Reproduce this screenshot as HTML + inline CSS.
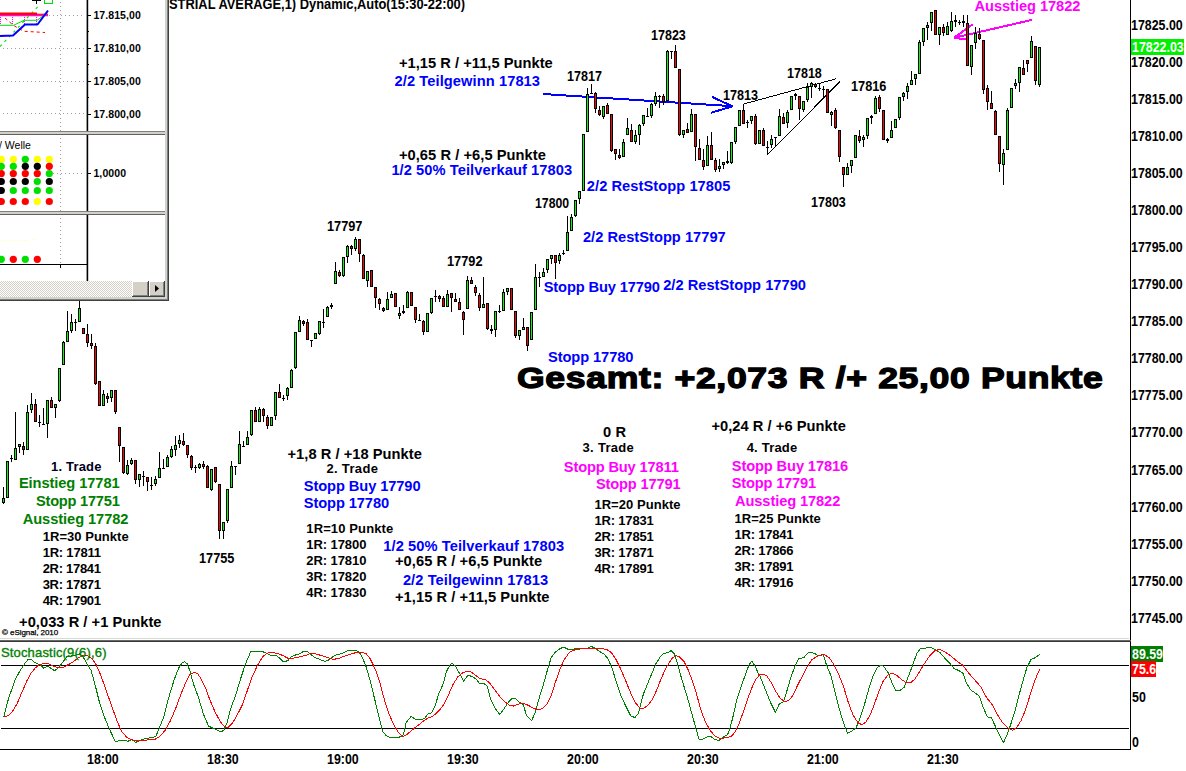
<!DOCTYPE html><html><head><meta charset="utf-8"><title>Chart</title><style>
html,body{margin:0;padding:0;background:#fff}body{width:1186px;height:771px;position:relative;overflow:hidden;font-family:"Liberation Sans",Arial,sans-serif}
svg{position:absolute;left:0;top:0}
.t{position:absolute;white-space:nowrap;line-height:1;margin:0;padding:0}
.tag{position:absolute;color:#fff;font-weight:bold;font-size:13px;line-height:1;white-space:nowrap}
</style></head><body>
<svg width="1186" height="771" viewBox="0 0 1186 771" shape-rendering="crispEdges">
<g shape-rendering="crispEdges">
<polyline points="543,94 731,106.1" fill="none" stroke="#0000ff" stroke-width="2"/>
<polyline points="712,96.9 732.5,106.3 711,112.8" fill="none" stroke="#0000ff" stroke-width="2" stroke-linejoin="bevel"/>
<polyline points="743,110 743,104.2 836,78.8" fill="none" stroke="#000" stroke-width="1"/>
<polyline points="767.3,155 839.7,81.7" fill="none" stroke="#000" stroke-width="1"/>
<polyline points="1032.3,19.8 954,37.8" fill="none" stroke="#ff00ff" stroke-width="2"/>
<polyline points="972.7,24.3 954,37.8 967.8,39.7" fill="none" stroke="#ff00ff" stroke-width="2" stroke-linejoin="bevel"/>
</g>
<g id="candles"><rect x="3" y="487" width="1" height="17" fill="#000"/><rect x="2" y="498" width="3" height="5" fill="#000"/><rect x="3" y="499" width="1" height="3" fill="#00ff00"/><rect x="7" y="461" width="1" height="37" fill="#000"/><rect x="6" y="461" width="3" height="37" fill="#000"/><rect x="7" y="462" width="1" height="35" fill="#00ff00"/><rect x="11" y="455" width="1" height="7" fill="#000"/><rect x="10" y="458" width="3" height="1" fill="#000"/><rect x="15" y="412" width="1" height="48" fill="#000"/><rect x="14" y="448" width="3" height="12" fill="#000"/><rect x="15" y="449" width="1" height="10" fill="#00ff00"/><rect x="19" y="444" width="1" height="9" fill="#000"/><rect x="18" y="444" width="3" height="3" fill="#000"/><rect x="19" y="445" width="1" height="1" fill="#00ff00"/><rect x="23" y="442" width="1" height="13" fill="#000"/><rect x="22" y="446" width="3" height="4" fill="#000"/><rect x="23" y="447" width="1" height="2" fill="#ff0000"/><rect x="27" y="405" width="1" height="45" fill="#000"/><rect x="26" y="412" width="3" height="38" fill="#000"/><rect x="27" y="413" width="1" height="36" fill="#00ff00"/><rect x="31" y="393" width="1" height="20" fill="#000"/><rect x="30" y="404" width="3" height="6" fill="#000"/><rect x="31" y="405" width="1" height="4" fill="#00ff00"/><rect x="35" y="399" width="1" height="23" fill="#000"/><rect x="34" y="404" width="3" height="18" fill="#000"/><rect x="35" y="405" width="1" height="16" fill="#ff0000"/><rect x="39" y="415" width="1" height="12" fill="#000"/><rect x="38" y="422" width="3" height="1" fill="#000"/><rect x="43" y="408" width="1" height="17" fill="#000"/><rect x="42" y="424" width="3" height="1" fill="#000"/><rect x="47" y="400" width="1" height="38" fill="#000"/><rect x="46" y="400" width="3" height="24" fill="#000"/><rect x="47" y="401" width="1" height="22" fill="#00ff00"/><rect x="51" y="397" width="1" height="11" fill="#000"/><rect x="50" y="400" width="3" height="8" fill="#000"/><rect x="51" y="401" width="1" height="6" fill="#ff0000"/><rect x="55" y="404" width="1" height="14" fill="#000"/><rect x="54" y="404" width="3" height="4" fill="#000"/><rect x="55" y="405" width="1" height="2" fill="#00ff00"/><rect x="59" y="368" width="1" height="34" fill="#000"/><rect x="58" y="368" width="3" height="33" fill="#000"/><rect x="59" y="369" width="1" height="31" fill="#00ff00"/><rect x="63" y="341" width="1" height="24" fill="#000"/><rect x="62" y="342" width="3" height="23" fill="#000"/><rect x="63" y="343" width="1" height="21" fill="#00ff00"/><rect x="67" y="311" width="1" height="31" fill="#000"/><rect x="66" y="331" width="3" height="11" fill="#000"/><rect x="67" y="332" width="1" height="9" fill="#00ff00"/><rect x="71" y="314" width="1" height="19" fill="#000"/><rect x="70" y="322" width="3" height="9" fill="#000"/><rect x="71" y="323" width="1" height="7" fill="#00ff00"/><rect x="75" y="319" width="1" height="12" fill="#000"/><rect x="74" y="322" width="3" height="1" fill="#000"/><rect x="79" y="300" width="1" height="22" fill="#000"/><rect x="78" y="308" width="3" height="14" fill="#000"/><rect x="79" y="309" width="1" height="12" fill="#00ff00"/><rect x="83" y="328" width="1" height="6" fill="#000"/><rect x="82" y="328" width="3" height="6" fill="#000"/><rect x="83" y="329" width="1" height="4" fill="#ff0000"/><rect x="87" y="324" width="1" height="23" fill="#000"/><rect x="86" y="334" width="3" height="9" fill="#000"/><rect x="87" y="335" width="1" height="7" fill="#ff0000"/><rect x="91" y="334" width="1" height="15" fill="#000"/><rect x="90" y="343" width="3" height="3" fill="#000"/><rect x="91" y="344" width="1" height="1" fill="#ff0000"/><rect x="95" y="343" width="1" height="42" fill="#000"/><rect x="94" y="346" width="3" height="38" fill="#000"/><rect x="95" y="347" width="1" height="36" fill="#ff0000"/><rect x="99" y="381" width="1" height="25" fill="#000"/><rect x="98" y="381" width="3" height="25" fill="#000"/><rect x="99" y="382" width="1" height="23" fill="#ff0000"/><rect x="103" y="390" width="1" height="16" fill="#000"/><rect x="102" y="394" width="3" height="12" fill="#000"/><rect x="103" y="395" width="1" height="10" fill="#00ff00"/><rect x="107" y="393" width="1" height="10" fill="#000"/><rect x="106" y="396" width="3" height="3" fill="#000"/><rect x="107" y="397" width="1" height="1" fill="#ff0000"/><rect x="111" y="390" width="1" height="12" fill="#000"/><rect x="110" y="390" width="3" height="8" fill="#000"/><rect x="111" y="391" width="1" height="6" fill="#00ff00"/><rect x="115" y="390" width="1" height="24" fill="#000"/><rect x="114" y="390" width="3" height="22" fill="#000"/><rect x="115" y="391" width="1" height="20" fill="#ff0000"/><rect x="119" y="427" width="1" height="35" fill="#000"/><rect x="118" y="427" width="3" height="19" fill="#000"/><rect x="119" y="428" width="1" height="17" fill="#ff0000"/><rect x="123" y="447" width="1" height="27" fill="#000"/><rect x="122" y="447" width="3" height="26" fill="#000"/><rect x="123" y="448" width="1" height="24" fill="#ff0000"/><rect x="127" y="460" width="1" height="15" fill="#000"/><rect x="126" y="465" width="3" height="9" fill="#000"/><rect x="127" y="466" width="1" height="7" fill="#00ff00"/><rect x="131" y="458" width="1" height="7" fill="#000"/><rect x="130" y="460" width="3" height="4" fill="#000"/><rect x="131" y="461" width="1" height="2" fill="#00ff00"/><rect x="135" y="460" width="1" height="24" fill="#000"/><rect x="134" y="460" width="3" height="20" fill="#000"/><rect x="135" y="461" width="1" height="18" fill="#ff0000"/><rect x="139" y="474" width="1" height="13" fill="#000"/><rect x="138" y="474" width="3" height="6" fill="#000"/><rect x="139" y="475" width="1" height="4" fill="#00ff00"/><rect x="143" y="471" width="1" height="15" fill="#000"/><rect x="142" y="476" width="3" height="1" fill="#000"/><rect x="147" y="477" width="1" height="14" fill="#000"/><rect x="146" y="477" width="3" height="5" fill="#000"/><rect x="147" y="478" width="1" height="3" fill="#ff0000"/><rect x="151" y="477" width="1" height="13" fill="#000"/><rect x="150" y="485" width="3" height="1" fill="#000"/><rect x="155" y="476" width="1" height="10" fill="#000"/><rect x="154" y="479" width="3" height="5" fill="#000"/><rect x="155" y="480" width="1" height="3" fill="#00ff00"/><rect x="159" y="452" width="1" height="26" fill="#000"/><rect x="158" y="468" width="3" height="10" fill="#000"/><rect x="159" y="469" width="1" height="8" fill="#00ff00"/><rect x="163" y="459" width="1" height="9" fill="#000"/><rect x="162" y="468" width="3" height="1" fill="#000"/><rect x="167" y="455" width="1" height="12" fill="#000"/><rect x="166" y="457" width="3" height="10" fill="#000"/><rect x="167" y="458" width="1" height="8" fill="#00ff00"/><rect x="171" y="446" width="1" height="12" fill="#000"/><rect x="170" y="449" width="3" height="8" fill="#000"/><rect x="171" y="450" width="1" height="6" fill="#00ff00"/><rect x="175" y="436" width="1" height="20" fill="#000"/><rect x="174" y="445" width="3" height="5" fill="#000"/><rect x="175" y="446" width="1" height="3" fill="#00ff00"/><rect x="179" y="435" width="1" height="13" fill="#000"/><rect x="178" y="440" width="3" height="4" fill="#000"/><rect x="179" y="441" width="1" height="2" fill="#00ff00"/><rect x="183" y="433" width="1" height="13" fill="#000"/><rect x="182" y="441" width="3" height="4" fill="#000"/><rect x="183" y="442" width="1" height="2" fill="#ff0000"/><rect x="187" y="445" width="1" height="13" fill="#000"/><rect x="186" y="445" width="3" height="10" fill="#000"/><rect x="187" y="446" width="1" height="8" fill="#ff0000"/><rect x="191" y="455" width="1" height="15" fill="#000"/><rect x="190" y="456" width="3" height="12" fill="#000"/><rect x="191" y="457" width="1" height="10" fill="#ff0000"/><rect x="195" y="465" width="1" height="8" fill="#000"/><rect x="194" y="467" width="3" height="1" fill="#000"/><rect x="199" y="463" width="1" height="6" fill="#000"/><rect x="198" y="464" width="3" height="4" fill="#000"/><rect x="199" y="465" width="1" height="2" fill="#00ff00"/><rect x="203" y="461" width="1" height="8" fill="#000"/><rect x="202" y="464" width="3" height="3" fill="#000"/><rect x="203" y="465" width="1" height="1" fill="#ff0000"/><rect x="207" y="465" width="1" height="23" fill="#000"/><rect x="206" y="466" width="3" height="22" fill="#000"/><rect x="207" y="467" width="1" height="20" fill="#ff0000"/><rect x="211" y="469" width="1" height="22" fill="#000"/><rect x="210" y="469" width="3" height="21" fill="#000"/><rect x="211" y="470" width="1" height="19" fill="#00ff00"/><rect x="215" y="467" width="1" height="16" fill="#000"/><rect x="214" y="467" width="3" height="15" fill="#000"/><rect x="215" y="468" width="1" height="13" fill="#ff0000"/><rect x="219" y="484" width="1" height="55" fill="#000"/><rect x="218" y="484" width="3" height="47" fill="#000"/><rect x="219" y="485" width="1" height="45" fill="#ff0000"/><rect x="223" y="522" width="1" height="17" fill="#000"/><rect x="222" y="522" width="3" height="9" fill="#000"/><rect x="223" y="523" width="1" height="7" fill="#00ff00"/><rect x="227" y="489" width="1" height="34" fill="#000"/><rect x="226" y="489" width="3" height="32" fill="#000"/><rect x="227" y="490" width="1" height="30" fill="#00ff00"/><rect x="231" y="461" width="1" height="27" fill="#000"/><rect x="230" y="466" width="3" height="22" fill="#000"/><rect x="231" y="467" width="1" height="20" fill="#00ff00"/><rect x="235" y="466" width="1" height="9" fill="#000"/><rect x="234" y="466" width="3" height="1" fill="#000"/><rect x="239" y="431" width="1" height="33" fill="#000"/><rect x="238" y="444" width="3" height="20" fill="#000"/><rect x="239" y="445" width="1" height="18" fill="#00ff00"/><rect x="243" y="441" width="1" height="6" fill="#000"/><rect x="242" y="446" width="3" height="1" fill="#000"/><rect x="247" y="431" width="1" height="14" fill="#000"/><rect x="246" y="437" width="3" height="8" fill="#000"/><rect x="247" y="438" width="1" height="6" fill="#00ff00"/><rect x="251" y="410" width="1" height="26" fill="#000"/><rect x="250" y="410" width="3" height="25" fill="#000"/><rect x="251" y="411" width="1" height="23" fill="#00ff00"/><rect x="255" y="407" width="1" height="15" fill="#000"/><rect x="254" y="410" width="3" height="12" fill="#000"/><rect x="255" y="411" width="1" height="10" fill="#ff0000"/><rect x="259" y="407" width="1" height="15" fill="#000"/><rect x="258" y="409" width="3" height="13" fill="#000"/><rect x="259" y="410" width="1" height="11" fill="#00ff00"/><rect x="263" y="408" width="1" height="14" fill="#000"/><rect x="262" y="409" width="3" height="7" fill="#000"/><rect x="263" y="410" width="1" height="5" fill="#ff0000"/><rect x="267" y="415" width="1" height="14" fill="#000"/><rect x="266" y="417" width="3" height="9" fill="#000"/><rect x="267" y="418" width="1" height="7" fill="#ff0000"/><rect x="271" y="417" width="1" height="9" fill="#000"/><rect x="270" y="417" width="3" height="9" fill="#000"/><rect x="271" y="418" width="1" height="7" fill="#00ff00"/><rect x="275" y="392" width="1" height="28" fill="#000"/><rect x="274" y="392" width="3" height="24" fill="#000"/><rect x="275" y="393" width="1" height="22" fill="#00ff00"/><rect x="279" y="384" width="1" height="14" fill="#000"/><rect x="278" y="392" width="3" height="6" fill="#000"/><rect x="279" y="393" width="1" height="4" fill="#ff0000"/><rect x="283" y="395" width="1" height="6" fill="#000"/><rect x="282" y="398" width="3" height="1" fill="#000"/><rect x="287" y="387" width="1" height="13" fill="#000"/><rect x="286" y="388" width="3" height="8" fill="#000"/><rect x="287" y="389" width="1" height="6" fill="#00ff00"/><rect x="291" y="369" width="1" height="19" fill="#000"/><rect x="290" y="370" width="3" height="18" fill="#000"/><rect x="291" y="371" width="1" height="16" fill="#00ff00"/><rect x="295" y="332" width="1" height="37" fill="#000"/><rect x="294" y="332" width="3" height="36" fill="#000"/><rect x="295" y="333" width="1" height="34" fill="#00ff00"/><rect x="299" y="316" width="1" height="16" fill="#000"/><rect x="298" y="320" width="3" height="12" fill="#000"/><rect x="299" y="321" width="1" height="10" fill="#00ff00"/><rect x="303" y="320" width="1" height="6" fill="#000"/><rect x="302" y="321" width="3" height="3" fill="#000"/><rect x="303" y="322" width="1" height="1" fill="#ff0000"/><rect x="307" y="319" width="1" height="21" fill="#000"/><rect x="306" y="322" width="3" height="18" fill="#000"/><rect x="307" y="323" width="1" height="16" fill="#ff0000"/><rect x="311" y="340" width="1" height="7" fill="#000"/><rect x="310" y="340" width="3" height="1" fill="#000"/><rect x="315" y="333" width="1" height="6" fill="#000"/><rect x="314" y="333" width="3" height="6" fill="#000"/><rect x="315" y="334" width="1" height="4" fill="#00ff00"/><rect x="319" y="321" width="1" height="14" fill="#000"/><rect x="318" y="321" width="3" height="13" fill="#000"/><rect x="319" y="322" width="1" height="11" fill="#00ff00"/><rect x="323" y="309" width="1" height="19" fill="#000"/><rect x="322" y="322" width="3" height="1" fill="#000"/><rect x="327" y="306" width="1" height="11" fill="#000"/><rect x="326" y="307" width="3" height="10" fill="#000"/><rect x="327" y="308" width="1" height="8" fill="#00ff00"/><rect x="331" y="303" width="1" height="6" fill="#000"/><rect x="330" y="305" width="3" height="2" fill="#000"/><rect x="335" y="262" width="1" height="22" fill="#000"/><rect x="334" y="271" width="3" height="13" fill="#000"/><rect x="335" y="272" width="1" height="11" fill="#00ff00"/><rect x="339" y="270" width="1" height="7" fill="#000"/><rect x="338" y="272" width="3" height="4" fill="#000"/><rect x="339" y="273" width="1" height="2" fill="#ff0000"/><rect x="343" y="257" width="1" height="20" fill="#000"/><rect x="342" y="257" width="3" height="19" fill="#000"/><rect x="343" y="258" width="1" height="17" fill="#00ff00"/><rect x="347" y="245" width="1" height="18" fill="#000"/><rect x="346" y="246" width="3" height="11" fill="#000"/><rect x="347" y="247" width="1" height="9" fill="#00ff00"/><rect x="351" y="245" width="1" height="10" fill="#000"/><rect x="350" y="246" width="3" height="3" fill="#000"/><rect x="351" y="247" width="1" height="1" fill="#ff0000"/><rect x="355" y="237" width="1" height="14" fill="#000"/><rect x="354" y="239" width="3" height="10" fill="#000"/><rect x="355" y="240" width="1" height="8" fill="#00ff00"/><rect x="359" y="239" width="1" height="23" fill="#000"/><rect x="358" y="239" width="3" height="15" fill="#000"/><rect x="359" y="240" width="1" height="13" fill="#ff0000"/><rect x="363" y="254" width="1" height="25" fill="#000"/><rect x="362" y="255" width="3" height="24" fill="#000"/><rect x="363" y="256" width="1" height="22" fill="#ff0000"/><rect x="367" y="271" width="1" height="16" fill="#000"/><rect x="366" y="271" width="3" height="10" fill="#000"/><rect x="367" y="272" width="1" height="8" fill="#00ff00"/><rect x="371" y="270" width="1" height="17" fill="#000"/><rect x="370" y="270" width="3" height="17" fill="#000"/><rect x="371" y="271" width="1" height="15" fill="#ff0000"/><rect x="375" y="287" width="1" height="21" fill="#000"/><rect x="374" y="287" width="3" height="11" fill="#000"/><rect x="375" y="288" width="1" height="9" fill="#ff0000"/><rect x="379" y="298" width="1" height="12" fill="#000"/><rect x="378" y="299" width="3" height="5" fill="#000"/><rect x="379" y="300" width="1" height="3" fill="#ff0000"/><rect x="383" y="307" width="1" height="5" fill="#000"/><rect x="382" y="308" width="3" height="3" fill="#000"/><rect x="383" y="309" width="1" height="1" fill="#ff0000"/><rect x="387" y="292" width="1" height="18" fill="#000"/><rect x="386" y="299" width="3" height="11" fill="#000"/><rect x="387" y="300" width="1" height="9" fill="#00ff00"/><rect x="391" y="291" width="1" height="7" fill="#000"/><rect x="390" y="294" width="3" height="4" fill="#000"/><rect x="391" y="295" width="1" height="2" fill="#00ff00"/><rect x="395" y="293" width="1" height="14" fill="#000"/><rect x="394" y="293" width="3" height="14" fill="#000"/><rect x="395" y="294" width="1" height="12" fill="#ff0000"/><rect x="399" y="307" width="1" height="12" fill="#000"/><rect x="398" y="313" width="3" height="3" fill="#000"/><rect x="399" y="314" width="1" height="1" fill="#00ff00"/><rect x="403" y="305" width="1" height="9" fill="#000"/><rect x="402" y="311" width="3" height="2" fill="#000"/><rect x="407" y="291" width="1" height="17" fill="#000"/><rect x="406" y="292" width="3" height="16" fill="#000"/><rect x="407" y="293" width="1" height="14" fill="#00ff00"/><rect x="411" y="292" width="1" height="14" fill="#000"/><rect x="410" y="292" width="3" height="14" fill="#000"/><rect x="411" y="293" width="1" height="12" fill="#ff0000"/><rect x="415" y="307" width="1" height="16" fill="#000"/><rect x="414" y="307" width="3" height="13" fill="#000"/><rect x="415" y="308" width="1" height="11" fill="#ff0000"/><rect x="419" y="314" width="1" height="6" fill="#000"/><rect x="418" y="320" width="3" height="1" fill="#000"/><rect x="423" y="320" width="1" height="15" fill="#000"/><rect x="422" y="321" width="3" height="11" fill="#000"/><rect x="423" y="322" width="1" height="9" fill="#ff0000"/><rect x="427" y="313" width="1" height="19" fill="#000"/><rect x="426" y="313" width="3" height="19" fill="#000"/><rect x="427" y="314" width="1" height="17" fill="#00ff00"/><rect x="431" y="298" width="1" height="16" fill="#000"/><rect x="430" y="298" width="3" height="15" fill="#000"/><rect x="431" y="299" width="1" height="13" fill="#00ff00"/><rect x="435" y="290" width="1" height="12" fill="#000"/><rect x="434" y="296" width="3" height="1" fill="#000"/><rect x="439" y="295" width="1" height="7" fill="#000"/><rect x="438" y="296" width="3" height="3" fill="#000"/><rect x="439" y="297" width="1" height="1" fill="#ff0000"/><rect x="443" y="296" width="1" height="11" fill="#000"/><rect x="442" y="298" width="3" height="9" fill="#000"/><rect x="443" y="299" width="1" height="7" fill="#ff0000"/><rect x="447" y="290" width="1" height="17" fill="#000"/><rect x="446" y="294" width="3" height="13" fill="#000"/><rect x="447" y="295" width="1" height="11" fill="#00ff00"/><rect x="451" y="293" width="1" height="19" fill="#000"/><rect x="450" y="293" width="3" height="5" fill="#000"/><rect x="451" y="294" width="1" height="3" fill="#ff0000"/><rect x="455" y="293" width="1" height="9" fill="#000"/><rect x="454" y="299" width="3" height="3" fill="#000"/><rect x="455" y="300" width="1" height="1" fill="#ff0000"/><rect x="459" y="298" width="1" height="12" fill="#000"/><rect x="458" y="302" width="3" height="8" fill="#000"/><rect x="459" y="303" width="1" height="6" fill="#ff0000"/><rect x="463" y="311" width="1" height="24" fill="#000"/><rect x="462" y="312" width="3" height="8" fill="#000"/><rect x="463" y="313" width="1" height="6" fill="#ff0000"/><rect x="467" y="276" width="1" height="33" fill="#000"/><rect x="466" y="280" width="3" height="29" fill="#000"/><rect x="467" y="281" width="1" height="27" fill="#00ff00"/><rect x="471" y="277" width="1" height="7" fill="#000"/><rect x="470" y="280" width="3" height="4" fill="#000"/><rect x="471" y="281" width="1" height="2" fill="#ff0000"/><rect x="475" y="285" width="1" height="11" fill="#000"/><rect x="474" y="287" width="3" height="6" fill="#000"/><rect x="475" y="288" width="1" height="4" fill="#ff0000"/><rect x="479" y="293" width="1" height="18" fill="#000"/><rect x="478" y="295" width="3" height="13" fill="#000"/><rect x="479" y="296" width="1" height="11" fill="#ff0000"/><rect x="483" y="277" width="1" height="31" fill="#000"/><rect x="482" y="304" width="3" height="4" fill="#000"/><rect x="483" y="305" width="1" height="2" fill="#00ff00"/><rect x="487" y="303" width="1" height="27" fill="#000"/><rect x="486" y="303" width="3" height="26" fill="#000"/><rect x="487" y="304" width="1" height="24" fill="#ff0000"/><rect x="491" y="325" width="1" height="9" fill="#000"/><rect x="490" y="329" width="3" height="2" fill="#000"/><rect x="495" y="311" width="1" height="26" fill="#000"/><rect x="494" y="311" width="3" height="19" fill="#000"/><rect x="495" y="312" width="1" height="17" fill="#00ff00"/><rect x="499" y="305" width="1" height="8" fill="#000"/><rect x="498" y="311" width="3" height="1" fill="#000"/><rect x="503" y="289" width="1" height="22" fill="#000"/><rect x="502" y="292" width="3" height="19" fill="#000"/><rect x="503" y="293" width="1" height="17" fill="#00ff00"/><rect x="507" y="288" width="1" height="7" fill="#000"/><rect x="506" y="288" width="3" height="4" fill="#000"/><rect x="507" y="289" width="1" height="2" fill="#00ff00"/><rect x="511" y="288" width="1" height="22" fill="#000"/><rect x="510" y="288" width="3" height="22" fill="#000"/><rect x="511" y="289" width="1" height="20" fill="#ff0000"/><rect x="515" y="311" width="1" height="27" fill="#000"/><rect x="514" y="311" width="3" height="25" fill="#000"/><rect x="515" y="312" width="1" height="23" fill="#ff0000"/><rect x="519" y="330" width="1" height="10" fill="#000"/><rect x="518" y="330" width="3" height="6" fill="#000"/><rect x="519" y="331" width="1" height="4" fill="#00ff00"/><rect x="523" y="318" width="1" height="11" fill="#000"/><rect x="522" y="327" width="3" height="3" fill="#000"/><rect x="523" y="328" width="1" height="1" fill="#00ff00"/><rect x="527" y="327" width="1" height="24" fill="#000"/><rect x="526" y="327" width="3" height="19" fill="#000"/><rect x="527" y="328" width="1" height="17" fill="#ff0000"/><rect x="531" y="312" width="1" height="28" fill="#000"/><rect x="530" y="312" width="3" height="28" fill="#000"/><rect x="531" y="313" width="1" height="26" fill="#00ff00"/><rect x="535" y="264" width="1" height="46" fill="#000"/><rect x="534" y="277" width="3" height="33" fill="#000"/><rect x="535" y="278" width="1" height="31" fill="#00ff00"/><rect x="539" y="272" width="1" height="15" fill="#000"/><rect x="538" y="277" width="3" height="1" fill="#000"/><rect x="543" y="268" width="1" height="9" fill="#000"/><rect x="542" y="272" width="3" height="5" fill="#000"/><rect x="543" y="273" width="1" height="3" fill="#00ff00"/><rect x="547" y="259" width="1" height="14" fill="#000"/><rect x="546" y="259" width="3" height="11" fill="#000"/><rect x="547" y="260" width="1" height="9" fill="#00ff00"/><rect x="551" y="255" width="1" height="9" fill="#000"/><rect x="550" y="255" width="3" height="4" fill="#000"/><rect x="551" y="256" width="1" height="2" fill="#00ff00"/><rect x="555" y="255" width="1" height="24" fill="#000"/><rect x="554" y="255" width="3" height="8" fill="#000"/><rect x="555" y="256" width="1" height="6" fill="#ff0000"/><rect x="559" y="253" width="1" height="11" fill="#000"/><rect x="558" y="255" width="3" height="6" fill="#000"/><rect x="559" y="256" width="1" height="4" fill="#00ff00"/><rect x="563" y="250" width="1" height="5" fill="#000"/><rect x="562" y="253" width="3" height="1" fill="#000"/><rect x="567" y="216" width="1" height="35" fill="#000"/><rect x="566" y="232" width="3" height="19" fill="#000"/><rect x="567" y="233" width="1" height="17" fill="#00ff00"/><rect x="571" y="214" width="1" height="17" fill="#000"/><rect x="570" y="217" width="3" height="14" fill="#000"/><rect x="571" y="218" width="1" height="12" fill="#00ff00"/><rect x="575" y="200" width="1" height="17" fill="#000"/><rect x="574" y="200" width="3" height="16" fill="#000"/><rect x="575" y="201" width="1" height="14" fill="#00ff00"/><rect x="579" y="191" width="1" height="13" fill="#000"/><rect x="578" y="191" width="3" height="8" fill="#000"/><rect x="579" y="192" width="1" height="6" fill="#00ff00"/><rect x="583" y="134" width="1" height="57" fill="#000"/><rect x="582" y="134" width="3" height="57" fill="#000"/><rect x="583" y="135" width="1" height="55" fill="#00ff00"/><rect x="587" y="88" width="1" height="44" fill="#000"/><rect x="586" y="94" width="3" height="38" fill="#000"/><rect x="587" y="95" width="1" height="36" fill="#00ff00"/><rect x="591" y="84" width="1" height="9" fill="#000"/><rect x="590" y="93" width="3" height="1" fill="#000"/><rect x="595" y="92" width="1" height="21" fill="#000"/><rect x="594" y="93" width="3" height="16" fill="#000"/><rect x="595" y="94" width="1" height="14" fill="#ff0000"/><rect x="599" y="106" width="1" height="10" fill="#000"/><rect x="598" y="110" width="3" height="5" fill="#000"/><rect x="599" y="111" width="1" height="3" fill="#ff0000"/><rect x="603" y="106" width="1" height="13" fill="#000"/><rect x="602" y="106" width="3" height="11" fill="#000"/><rect x="603" y="107" width="1" height="9" fill="#00ff00"/><rect x="607" y="103" width="1" height="11" fill="#000"/><rect x="606" y="105" width="3" height="9" fill="#000"/><rect x="607" y="106" width="1" height="7" fill="#ff0000"/><rect x="611" y="114" width="1" height="38" fill="#000"/><rect x="610" y="114" width="3" height="37" fill="#000"/><rect x="611" y="115" width="1" height="35" fill="#ff0000"/><rect x="615" y="149" width="1" height="11" fill="#000"/><rect x="614" y="149" width="3" height="5" fill="#000"/><rect x="615" y="150" width="1" height="3" fill="#ff0000"/><rect x="619" y="149" width="1" height="10" fill="#000"/><rect x="618" y="155" width="3" height="3" fill="#000"/><rect x="619" y="156" width="1" height="1" fill="#ff0000"/><rect x="623" y="139" width="1" height="18" fill="#000"/><rect x="622" y="142" width="3" height="15" fill="#000"/><rect x="623" y="143" width="1" height="13" fill="#00ff00"/><rect x="627" y="118" width="1" height="17" fill="#000"/><rect x="626" y="128" width="3" height="7" fill="#000"/><rect x="627" y="129" width="1" height="5" fill="#00ff00"/><rect x="631" y="124" width="1" height="18" fill="#000"/><rect x="630" y="130" width="3" height="12" fill="#000"/><rect x="631" y="131" width="1" height="10" fill="#ff0000"/><rect x="635" y="130" width="1" height="14" fill="#000"/><rect x="634" y="135" width="3" height="7" fill="#000"/><rect x="635" y="136" width="1" height="5" fill="#00ff00"/><rect x="639" y="124" width="1" height="21" fill="#000"/><rect x="638" y="125" width="3" height="10" fill="#000"/><rect x="639" y="126" width="1" height="8" fill="#00ff00"/><rect x="643" y="115" width="1" height="11" fill="#000"/><rect x="642" y="115" width="3" height="9" fill="#000"/><rect x="643" y="116" width="1" height="7" fill="#00ff00"/><rect x="647" y="108" width="1" height="8" fill="#000"/><rect x="646" y="116" width="3" height="1" fill="#000"/><rect x="651" y="103" width="1" height="15" fill="#000"/><rect x="650" y="104" width="3" height="12" fill="#000"/><rect x="651" y="105" width="1" height="10" fill="#00ff00"/><rect x="655" y="92" width="1" height="14" fill="#000"/><rect x="654" y="96" width="3" height="8" fill="#000"/><rect x="655" y="97" width="1" height="6" fill="#00ff00"/><rect x="659" y="95" width="1" height="13" fill="#000"/><rect x="658" y="96" width="3" height="1" fill="#000"/><rect x="663" y="94" width="1" height="11" fill="#000"/><rect x="662" y="96" width="3" height="6" fill="#000"/><rect x="663" y="97" width="1" height="4" fill="#ff0000"/><rect x="667" y="50" width="1" height="51" fill="#000"/><rect x="666" y="51" width="3" height="50" fill="#000"/><rect x="667" y="52" width="1" height="48" fill="#00ff00"/><rect x="671" y="51" width="1" height="8" fill="#000"/><rect x="670" y="51" width="3" height="1" fill="#000"/><rect x="675" y="45" width="1" height="23" fill="#000"/><rect x="674" y="51" width="3" height="17" fill="#000"/><rect x="675" y="52" width="1" height="15" fill="#ff0000"/><rect x="679" y="69" width="1" height="67" fill="#000"/><rect x="678" y="69" width="3" height="66" fill="#000"/><rect x="679" y="70" width="1" height="64" fill="#ff0000"/><rect x="683" y="130" width="1" height="8" fill="#000"/><rect x="682" y="130" width="3" height="5" fill="#000"/><rect x="683" y="131" width="1" height="3" fill="#00ff00"/><rect x="687" y="123" width="1" height="10" fill="#000"/><rect x="686" y="129" width="3" height="4" fill="#000"/><rect x="687" y="130" width="1" height="2" fill="#ff0000"/><rect x="691" y="109" width="1" height="23" fill="#000"/><rect x="690" y="114" width="3" height="18" fill="#000"/><rect x="691" y="115" width="1" height="16" fill="#00ff00"/><rect x="695" y="114" width="1" height="47" fill="#000"/><rect x="694" y="114" width="3" height="33" fill="#000"/><rect x="695" y="115" width="1" height="31" fill="#ff0000"/><rect x="699" y="139" width="1" height="21" fill="#000"/><rect x="698" y="148" width="3" height="12" fill="#000"/><rect x="699" y="149" width="1" height="10" fill="#ff0000"/><rect x="703" y="149" width="1" height="21" fill="#000"/><rect x="702" y="160" width="3" height="7" fill="#000"/><rect x="703" y="161" width="1" height="5" fill="#ff0000"/><rect x="707" y="136" width="1" height="30" fill="#000"/><rect x="706" y="145" width="3" height="21" fill="#000"/><rect x="707" y="146" width="1" height="19" fill="#00ff00"/><rect x="711" y="132" width="1" height="28" fill="#000"/><rect x="710" y="145" width="3" height="15" fill="#000"/><rect x="711" y="146" width="1" height="13" fill="#ff0000"/><rect x="715" y="158" width="1" height="14" fill="#000"/><rect x="714" y="160" width="3" height="10" fill="#000"/><rect x="715" y="161" width="1" height="8" fill="#ff0000"/><rect x="719" y="159" width="1" height="13" fill="#000"/><rect x="718" y="166" width="3" height="3" fill="#000"/><rect x="719" y="167" width="1" height="1" fill="#00ff00"/><rect x="723" y="162" width="1" height="7" fill="#000"/><rect x="722" y="162" width="3" height="3" fill="#000"/><rect x="723" y="163" width="1" height="1" fill="#00ff00"/><rect x="727" y="151" width="1" height="13" fill="#000"/><rect x="726" y="161" width="3" height="2" fill="#000"/><rect x="731" y="142" width="1" height="22" fill="#000"/><rect x="730" y="142" width="3" height="21" fill="#000"/><rect x="731" y="143" width="1" height="19" fill="#00ff00"/><rect x="735" y="127" width="1" height="17" fill="#000"/><rect x="734" y="127" width="3" height="15" fill="#000"/><rect x="735" y="128" width="1" height="13" fill="#00ff00"/><rect x="739" y="110" width="1" height="16" fill="#000"/><rect x="738" y="110" width="3" height="16" fill="#000"/><rect x="739" y="111" width="1" height="14" fill="#00ff00"/><rect x="743" y="104" width="1" height="20" fill="#000"/><rect x="742" y="110" width="3" height="14" fill="#000"/><rect x="743" y="111" width="1" height="12" fill="#ff0000"/><rect x="747" y="120" width="1" height="8" fill="#000"/><rect x="746" y="122" width="3" height="1" fill="#000"/><rect x="751" y="116" width="1" height="8" fill="#000"/><rect x="750" y="116" width="3" height="5" fill="#000"/><rect x="751" y="117" width="1" height="3" fill="#00ff00"/><rect x="755" y="114" width="1" height="31" fill="#000"/><rect x="754" y="116" width="3" height="28" fill="#000"/><rect x="755" y="117" width="1" height="26" fill="#ff0000"/><rect x="759" y="130" width="1" height="14" fill="#000"/><rect x="758" y="130" width="3" height="14" fill="#000"/><rect x="759" y="131" width="1" height="12" fill="#00ff00"/><rect x="763" y="128" width="1" height="18" fill="#000"/><rect x="762" y="130" width="3" height="16" fill="#000"/><rect x="763" y="131" width="1" height="14" fill="#ff0000"/><rect x="767" y="141" width="1" height="14" fill="#000"/><rect x="766" y="147" width="3" height="1" fill="#000"/><rect x="771" y="135" width="1" height="13" fill="#000"/><rect x="770" y="139" width="3" height="6" fill="#000"/><rect x="771" y="140" width="1" height="4" fill="#00ff00"/><rect x="775" y="137" width="1" height="9" fill="#000"/><rect x="774" y="137" width="3" height="1" fill="#000"/><rect x="779" y="109" width="1" height="27" fill="#000"/><rect x="778" y="116" width="3" height="20" fill="#000"/><rect x="779" y="117" width="1" height="18" fill="#00ff00"/><rect x="783" y="113" width="1" height="11" fill="#000"/><rect x="782" y="117" width="3" height="7" fill="#000"/><rect x="783" y="118" width="1" height="5" fill="#ff0000"/><rect x="787" y="110" width="1" height="18" fill="#000"/><rect x="786" y="112" width="3" height="11" fill="#000"/><rect x="787" y="113" width="1" height="9" fill="#00ff00"/><rect x="791" y="96" width="1" height="14" fill="#000"/><rect x="790" y="96" width="3" height="14" fill="#000"/><rect x="791" y="97" width="1" height="12" fill="#00ff00"/><rect x="795" y="93" width="1" height="7" fill="#000"/><rect x="794" y="94" width="3" height="2" fill="#000"/><rect x="799" y="96" width="1" height="24" fill="#000"/><rect x="798" y="96" width="3" height="13" fill="#000"/><rect x="799" y="97" width="1" height="11" fill="#ff0000"/><rect x="803" y="101" width="1" height="11" fill="#000"/><rect x="802" y="101" width="3" height="9" fill="#000"/><rect x="803" y="102" width="1" height="7" fill="#00ff00"/><rect x="807" y="83" width="1" height="19" fill="#000"/><rect x="806" y="87" width="3" height="13" fill="#000"/><rect x="807" y="88" width="1" height="11" fill="#00ff00"/><rect x="811" y="82" width="1" height="16" fill="#000"/><rect x="810" y="83" width="3" height="4" fill="#000"/><rect x="811" y="84" width="1" height="2" fill="#00ff00"/><rect x="815" y="83" width="1" height="5" fill="#000"/><rect x="814" y="84" width="3" height="3" fill="#000"/><rect x="815" y="85" width="1" height="1" fill="#ff0000"/><rect x="819" y="83" width="1" height="8" fill="#000"/><rect x="818" y="88" width="3" height="1" fill="#000"/><rect x="823" y="86" width="1" height="12" fill="#000"/><rect x="822" y="89" width="3" height="1" fill="#000"/><rect x="827" y="89" width="1" height="24" fill="#000"/><rect x="826" y="89" width="3" height="24" fill="#000"/><rect x="827" y="90" width="1" height="22" fill="#ff0000"/><rect x="831" y="111" width="1" height="15" fill="#000"/><rect x="830" y="112" width="3" height="3" fill="#000"/><rect x="831" y="113" width="1" height="1" fill="#00ff00"/><rect x="835" y="108" width="1" height="21" fill="#000"/><rect x="834" y="110" width="3" height="18" fill="#000"/><rect x="835" y="111" width="1" height="16" fill="#ff0000"/><rect x="839" y="130" width="1" height="32" fill="#000"/><rect x="838" y="130" width="3" height="27" fill="#000"/><rect x="839" y="131" width="1" height="25" fill="#ff0000"/><rect x="843" y="167" width="1" height="20" fill="#000"/><rect x="842" y="167" width="3" height="8" fill="#000"/><rect x="843" y="168" width="1" height="6" fill="#ff0000"/><rect x="847" y="163" width="1" height="12" fill="#000"/><rect x="846" y="167" width="3" height="8" fill="#000"/><rect x="847" y="168" width="1" height="6" fill="#00ff00"/><rect x="851" y="160" width="1" height="13" fill="#000"/><rect x="850" y="160" width="3" height="6" fill="#000"/><rect x="851" y="161" width="1" height="4" fill="#00ff00"/><rect x="855" y="135" width="1" height="23" fill="#000"/><rect x="854" y="135" width="3" height="23" fill="#000"/><rect x="855" y="136" width="1" height="21" fill="#00ff00"/><rect x="859" y="130" width="1" height="13" fill="#000"/><rect x="858" y="136" width="3" height="5" fill="#000"/><rect x="859" y="137" width="1" height="3" fill="#ff0000"/><rect x="863" y="135" width="1" height="12" fill="#000"/><rect x="862" y="137" width="3" height="3" fill="#000"/><rect x="863" y="138" width="1" height="1" fill="#00ff00"/><rect x="867" y="118" width="1" height="21" fill="#000"/><rect x="866" y="118" width="3" height="18" fill="#000"/><rect x="867" y="119" width="1" height="16" fill="#00ff00"/><rect x="871" y="115" width="1" height="9" fill="#000"/><rect x="870" y="116" width="3" height="2" fill="#000"/><rect x="875" y="96" width="1" height="18" fill="#000"/><rect x="874" y="98" width="3" height="16" fill="#000"/><rect x="875" y="99" width="1" height="14" fill="#00ff00"/><rect x="879" y="95" width="1" height="17" fill="#000"/><rect x="878" y="97" width="3" height="12" fill="#000"/><rect x="879" y="98" width="1" height="10" fill="#ff0000"/><rect x="883" y="110" width="1" height="30" fill="#000"/><rect x="882" y="110" width="3" height="30" fill="#000"/><rect x="883" y="111" width="1" height="28" fill="#ff0000"/><rect x="887" y="138" width="1" height="5" fill="#000"/><rect x="886" y="139" width="3" height="2" fill="#000"/><rect x="891" y="121" width="1" height="17" fill="#000"/><rect x="890" y="130" width="3" height="8" fill="#000"/><rect x="891" y="131" width="1" height="6" fill="#00ff00"/><rect x="895" y="119" width="1" height="9" fill="#000"/><rect x="894" y="119" width="3" height="9" fill="#000"/><rect x="895" y="120" width="1" height="7" fill="#00ff00"/><rect x="899" y="97" width="1" height="23" fill="#000"/><rect x="898" y="97" width="3" height="21" fill="#000"/><rect x="899" y="98" width="1" height="19" fill="#00ff00"/><rect x="903" y="92" width="1" height="9" fill="#000"/><rect x="902" y="93" width="3" height="4" fill="#000"/><rect x="903" y="94" width="1" height="2" fill="#00ff00"/><rect x="907" y="83" width="1" height="16" fill="#000"/><rect x="906" y="86" width="3" height="6" fill="#000"/><rect x="907" y="87" width="1" height="4" fill="#00ff00"/><rect x="911" y="71" width="1" height="14" fill="#000"/><rect x="910" y="80" width="3" height="5" fill="#000"/><rect x="911" y="81" width="1" height="3" fill="#00ff00"/><rect x="915" y="74" width="1" height="11" fill="#000"/><rect x="914" y="74" width="3" height="5" fill="#000"/><rect x="915" y="75" width="1" height="3" fill="#00ff00"/><rect x="919" y="40" width="1" height="34" fill="#000"/><rect x="918" y="42" width="3" height="32" fill="#000"/><rect x="919" y="43" width="1" height="30" fill="#00ff00"/><rect x="923" y="28" width="1" height="18" fill="#000"/><rect x="922" y="28" width="3" height="14" fill="#000"/><rect x="923" y="29" width="1" height="12" fill="#00ff00"/><rect x="927" y="22" width="1" height="18" fill="#000"/><rect x="926" y="25" width="3" height="3" fill="#000"/><rect x="927" y="26" width="1" height="1" fill="#00ff00"/><rect x="931" y="12" width="1" height="19" fill="#000"/><rect x="930" y="12" width="3" height="11" fill="#000"/><rect x="931" y="13" width="1" height="9" fill="#00ff00"/><rect x="935" y="10" width="1" height="25" fill="#000"/><rect x="934" y="10" width="3" height="25" fill="#000"/><rect x="935" y="11" width="1" height="23" fill="#ff0000"/><rect x="939" y="27" width="1" height="18" fill="#000"/><rect x="938" y="27" width="3" height="8" fill="#000"/><rect x="939" y="28" width="1" height="6" fill="#00ff00"/><rect x="943" y="24" width="1" height="12" fill="#000"/><rect x="942" y="27" width="3" height="6" fill="#000"/><rect x="943" y="28" width="1" height="4" fill="#ff0000"/><rect x="947" y="22" width="1" height="13" fill="#000"/><rect x="946" y="26" width="3" height="9" fill="#000"/><rect x="947" y="27" width="1" height="7" fill="#00ff00"/><rect x="951" y="12" width="1" height="20" fill="#000"/><rect x="950" y="21" width="3" height="10" fill="#000"/><rect x="951" y="22" width="1" height="8" fill="#00ff00"/><rect x="955" y="15" width="1" height="12" fill="#000"/><rect x="954" y="20" width="3" height="2" fill="#000"/><rect x="959" y="20" width="1" height="5" fill="#000"/><rect x="958" y="22" width="3" height="1" fill="#000"/><rect x="963" y="15" width="1" height="12" fill="#000"/><rect x="962" y="21" width="3" height="2" fill="#000"/><rect x="967" y="15" width="1" height="51" fill="#000"/><rect x="966" y="23" width="3" height="43" fill="#000"/><rect x="967" y="24" width="1" height="41" fill="#ff0000"/><rect x="971" y="45" width="1" height="30" fill="#000"/><rect x="970" y="45" width="3" height="22" fill="#000"/><rect x="971" y="46" width="1" height="20" fill="#00ff00"/><rect x="975" y="27" width="1" height="22" fill="#000"/><rect x="974" y="33" width="3" height="10" fill="#000"/><rect x="975" y="34" width="1" height="8" fill="#00ff00"/><rect x="979" y="28" width="1" height="12" fill="#000"/><rect x="978" y="34" width="3" height="5" fill="#000"/><rect x="979" y="35" width="1" height="3" fill="#ff0000"/><rect x="983" y="40" width="1" height="54" fill="#000"/><rect x="982" y="40" width="3" height="50" fill="#000"/><rect x="983" y="41" width="1" height="48" fill="#ff0000"/><rect x="987" y="85" width="1" height="25" fill="#000"/><rect x="986" y="88" width="3" height="14" fill="#000"/><rect x="987" y="89" width="1" height="12" fill="#ff0000"/><rect x="991" y="91" width="1" height="18" fill="#000"/><rect x="990" y="103" width="3" height="6" fill="#000"/><rect x="991" y="104" width="1" height="4" fill="#ff0000"/><rect x="995" y="110" width="1" height="25" fill="#000"/><rect x="994" y="111" width="3" height="24" fill="#000"/><rect x="995" y="112" width="1" height="22" fill="#ff0000"/><rect x="999" y="136" width="1" height="36" fill="#000"/><rect x="998" y="136" width="3" height="28" fill="#000"/><rect x="999" y="137" width="1" height="26" fill="#ff0000"/><rect x="1003" y="149" width="1" height="36" fill="#000"/><rect x="1002" y="153" width="3" height="12" fill="#000"/><rect x="1003" y="154" width="1" height="10" fill="#00ff00"/><rect x="1007" y="108" width="1" height="42" fill="#000"/><rect x="1006" y="110" width="3" height="40" fill="#000"/><rect x="1007" y="111" width="1" height="38" fill="#00ff00"/><rect x="1011" y="88" width="1" height="20" fill="#000"/><rect x="1010" y="88" width="3" height="20" fill="#000"/><rect x="1011" y="89" width="1" height="18" fill="#00ff00"/><rect x="1015" y="79" width="1" height="10" fill="#000"/><rect x="1014" y="83" width="3" height="3" fill="#000"/><rect x="1015" y="84" width="1" height="1" fill="#00ff00"/><rect x="1019" y="67" width="1" height="25" fill="#000"/><rect x="1018" y="67" width="3" height="16" fill="#000"/><rect x="1019" y="68" width="1" height="14" fill="#00ff00"/><rect x="1023" y="60" width="1" height="15" fill="#000"/><rect x="1022" y="68" width="3" height="7" fill="#000"/><rect x="1023" y="69" width="1" height="5" fill="#ff0000"/><rect x="1027" y="60" width="1" height="12" fill="#000"/><rect x="1026" y="60" width="3" height="4" fill="#000"/><rect x="1027" y="61" width="1" height="2" fill="#ff0000"/><rect x="1031" y="36" width="1" height="22" fill="#000"/><rect x="1030" y="41" width="3" height="17" fill="#000"/><rect x="1031" y="42" width="1" height="15" fill="#00ff00"/><rect x="1035" y="46" width="1" height="39" fill="#000"/><rect x="1034" y="46" width="3" height="35" fill="#000"/><rect x="1035" y="47" width="1" height="33" fill="#ff0000"/><rect x="1039" y="47" width="1" height="40" fill="#000"/><rect x="1038" y="47" width="3" height="38" fill="#000"/><rect x="1039" y="48" width="1" height="36" fill="#00ff00"/></g>
<rect x="1130" y="0" width="1" height="750" fill="#000"/>
<rect x="0" y="638" width="1129" height="1" fill="#d4dcd4"/>
<rect x="0" y="640" width="1131" height="1" fill="#686868"/>
<rect x="0" y="641" width="1131" height="1" fill="#383838"/>
<rect x="1" y="665" width="1128" height="1" fill="#000"/>
<rect x="1" y="728" width="1128" height="1" fill="#000"/>
<rect x="0" y="749" width="1131" height="1" fill="#000"/>
<polyline points="3.7,717.2 8.4,699.0 15.2,679.6 20.2,670.4 25.3,662.8 27.8,659.9 30.7,659.1 33.7,661.6 36.3,663.3 40.5,665.0 43.8,668.3 48.1,666.1 51.4,668.7 54.8,670.7 58.2,667.8 62.4,662.8 66.6,656.9 70.8,656.0 75.0,655.2 79.3,653.8 82.6,656.0 86.8,663.6 91.1,670.4 94.4,682.2 99.5,702.4 104.6,717.6 109.6,729.4 115.5,742.0 119.7,740.3 124.8,740.7 128.2,741.2 131.5,739.5 135.8,742.4 140.0,740.3 146.7,738.1 152.6,737.8 156.0,736.1 159.4,727.7 163.6,717.6 166.9,704.1 170.3,692.3 174.5,678.8 178.8,667.8 182.1,662.8 184.7,661.9 187.2,663.6 190.0,671.2 193.4,683.8 198.4,697.3 203.5,714.2 208.5,726.0 213.6,728.5 220.4,731.6 223.7,730.7 227.1,722.6 230.5,709.1 235.5,695.6 240.6,678.8 245.6,663.6 250.7,651.8 254.1,651.5 257.5,651.8 262.5,651.5 266.7,653.5 270.9,655.2 276.0,655.5 280.2,658.5 283.6,661.9 287.8,660.6 291.2,656.9 294.6,655.2 298.8,654.3 303.0,651.8 307.2,651.5 310.6,654.3 314.8,657.7 319.8,659.4 324.9,661.4 328.3,660.2 332.5,656.9 336.7,654.8 341.8,653.5 347.7,650.5 351.9,651.0 356.1,650.5 359.5,652.6 362.8,658.5 366.2,667.0 369.6,678.8 373.0,692.3 376.3,705.8 379.7,719.3 382.5,731.1 385.9,735.3 390.1,737.5 396.9,737.8 401.1,736.5 403.6,734.4 406.1,722.6 411.2,716.4 415.4,719.3 421.3,719.6 424.7,718.4 428.1,713.7 431.4,712.8 434.8,706.6 439.0,693.1 443.2,683.8 446.6,671.2 450.0,665.0 452.2,663.3 455.0,665.6 459.3,672.9 463.5,681.3 467.7,675.4 471.9,676.3 476.1,679.1 479.5,683.5 483.7,683.5 487.1,685.9 490.5,699.0 494.7,707.5 499.7,714.5 503.9,709.1 508.2,702.4 512.4,698.2 515.8,698.7 520.0,702.7 523.3,704.9 526.7,715.9 531.8,720.6 535.1,712.5 539.4,697.3 543.6,683.8 547.8,668.7 551.2,657.7 555.4,652.1 559.6,648.8 563.8,647.1 568.0,649.3 570.0,649.8 575.1,648.8 581.8,648.4 586.9,648.4 591.1,646.4 595.3,648.1 599.5,651.5 603.7,653.8 607.9,658.5 612.2,668.7 616.4,682.2 620.6,694.8 625.6,705.8 630.7,715.9 634.9,717.6 638.3,713.4 640.8,704.1 643.4,694.0 647.6,683.8 651.8,673.7 656.0,663.6 660.2,656.9 663.6,653.5 667.8,652.6 671.2,650.5 674.6,654.3 677.9,665.3 682.1,680.5 686.4,694.0 690.6,709.1 694.8,724.3 699.0,739.2 702.4,739.5 706.6,737.0 710.8,736.5 715.0,739.8 719.2,740.3 723.5,737.0 727.7,734.4 730.2,727.7 733.6,714.2 736.9,699.0 740.3,688.9 744.5,677.1 748.8,665.3 751.6,661.1 754.7,665.3 758.9,674.6 760.0,676.3 765.1,688.9 770.1,701.6 775.5,712.5 779.4,703.7 783.6,701.6 787.0,690.6 791.2,676.3 795.4,665.3 798.8,658.5 803.8,657.7 807.2,653.5 810.6,652.1 814.8,653.5 818.2,656.0 823.2,654.8 826.6,665.3 830.8,675.4 835.0,692.3 839.3,709.1 843.5,722.6 847.4,733.1 851.9,731.1 856.1,727.7 860.3,717.6 864.6,704.1 868.8,688.9 873.0,676.3 877.2,667.8 880.6,665.0 883.9,666.6 888.2,672.9 892.4,683.8 895.8,690.3 900.0,690.3 904.2,687.2 908.4,676.3 912.6,665.3 916.8,653.5 920.2,648.8 925.3,648.1 930.3,647.1 934.5,649.3 938.8,651.8 940.0,652.6 945.1,658.5 950.1,663.6 954.3,668.7 958.5,670.4 962.8,672.9 966.1,682.2 970.4,689.7 975.4,693.1 979.6,696.5 983.0,706.6 987.2,716.7 991.4,717.9 995.6,726.8 999.9,736.1 1003.6,742.4 1007.5,733.6 1010.8,724.3 1015.0,710.8 1018.4,697.3 1022.6,682.2 1026.8,667.8 1031.1,659.4 1035.3,657.7 1039.8,654.3" fill="none" stroke="#008000" stroke-width="1" stroke-linejoin="round" shape-rendering="crispEdges"/>
<polyline points="3.7,717.2 7.6,715.9 11.8,712.5 16.9,704.1 21.9,692.3 27.0,680.5 31.2,672.9 35.4,667.8 39.6,664.5 43.8,663.6 47.2,663.3 50.6,665.0 55.6,667.0 60.7,667.3 64.1,667.0 67.5,665.0 72.5,662.4 77.6,658.5 80.9,656.4 84.3,655.5 87.7,656.0 91.9,658.5 96.1,664.5 101.2,676.3 106.2,690.6 111.3,704.9 116.4,719.3 121.4,731.1 126.5,737.0 131.5,739.8 136.6,740.8 143.3,740.3 150.1,739.8 155.1,739.2 160.2,736.1 165.3,730.2 170.3,720.9 175.4,709.1 180.4,695.6 185.5,683.0 189.7,674.6 194.2,672.4 197.6,673.7 201.0,678.8 205.2,687.2 210.2,700.7 215.3,712.5 220.4,721.8 224.6,726.8 227.9,727.7 232.2,723.5 237.2,715.0 242.3,704.9 247.3,690.6 252.4,676.3 257.5,665.3 262.5,656.9 266.7,653.5 270.9,652.3 277.7,653.5 282.7,655.5 287.8,658.2 292.9,658.2 299.6,656.9 306.4,655.2 310.6,653.5 314.8,653.8 321.5,655.5 328.3,657.7 333.3,659.4 338.4,658.5 345.1,656.0 351.9,653.8 356.9,652.3 362.0,652.1 366.2,653.8 369.6,657.7 373.0,664.5 376.3,672.0 379.7,682.2 384.2,699.0 388.4,712.5 393.5,724.3 398.5,732.7 402.8,736.5 407.0,734.4 412.0,730.2 417.1,726.0 422.2,722.1 427.2,718.4 432.3,716.4 437.3,712.5 442.4,706.6 447.5,697.3 452.5,685.5 457.6,677.1 462.6,672.9 466.8,671.2 471.1,672.0 475.3,675.1 480.3,678.8 485.4,679.6 489.6,683.0 494.7,689.7 499.7,696.5 504.8,701.6 509.0,704.9 513.2,706.1 518.3,704.1 523.3,703.2 528.4,705.4 533.5,708.3 538.5,710.0 542.7,708.3 546.9,704.1 551.2,695.6 555.4,682.2 559.6,670.4 563.8,660.2 568.0,654.3 570.0,651.8 575.1,649.8 581.8,648.8 588.5,648.4 595.3,648.1 602.0,648.4 607.1,649.8 611.3,652.6 615.5,658.5 620.6,668.7 625.6,680.5 630.7,693.1 635.8,703.2 640.0,708.3 644.2,708.0 648.4,704.9 652.6,699.0 656.8,689.7 661.1,678.8 666.1,667.8 671.2,659.4 675.4,655.5 679.6,656.9 683.8,661.1 688.0,669.5 692.3,680.5 696.5,694.0 700.7,709.1 704.9,720.9 710.0,730.2 715.0,736.1 720.1,738.7 725.1,737.8 731.0,736.5 735.3,731.9 739.5,722.6 743.7,710.8 747.9,698.2 752.1,687.2 756.3,678.8 759.7,674.9 763.4,674.2 766.7,675.8 771.0,682.2 775.2,690.6 780.2,698.2 784.5,701.6 788.7,700.7 792.9,695.6 797.1,686.4 802.2,676.3 807.2,667.0 811.4,660.2 816.5,656.5 821.6,654.8 824.9,654.8 829.1,657.7 833.4,663.6 838.4,673.7 843.5,686.4 847.7,700.7 852.7,714.2 857.8,722.6 862.0,724.7 866.2,721.8 870.5,714.2 874.7,703.2 878.9,691.4 883.1,681.3 888.2,674.6 892.4,673.4 896.6,675.4 901.7,679.6 906.7,683.0 910.9,682.5 915.1,678.8 919.4,672.0 924.4,663.6 929.5,656.0 934.5,651.0 939.6,649.3 945.1,652.1 951.0,656.0 956.9,661.1 962.8,665.3 967.8,672.0 973.7,678.8 980.5,686.4 986.4,697.3 992.3,704.9 997.3,714.2 1002.4,722.6 1007.5,727.7 1012.5,730.2 1016.7,727.7 1020.9,720.9 1025.2,710.8 1029.4,697.3 1033.6,683.8 1037.0,675.4 1039.8,669.5" fill="none" stroke="#ff0000" stroke-width="1" stroke-linejoin="round" shape-rendering="crispEdges"/>
<g id="popup"><rect x="0" y="0" width="169" height="301" fill="#fff"/>
<line x1="60.5" y1="2" x2="60.5" y2="264" stroke="#a898a8" stroke-width="1" stroke-dasharray="1 3"/>
<line x1="49" y1="15.5" x2="85" y2="15.5" stroke="#a898a8" stroke-width="1" stroke-dasharray="1 3"/>
<line x1="3" y1="48.5" x2="85" y2="48.5" stroke="#a898a8" stroke-width="1" stroke-dasharray="1 3"/>
<line x1="3" y1="81.5" x2="85" y2="81.5" stroke="#a898a8" stroke-width="1" stroke-dasharray="1 3"/>
<line x1="3" y1="113.5" x2="85" y2="113.5" stroke="#a898a8" stroke-width="1" stroke-dasharray="1 3"/>
<line x1="53" y1="173.5" x2="85" y2="173.5" stroke="#a898a8" stroke-width="1" stroke-dasharray="1 3"/>
<rect x="86.6" y="0" width="1.6" height="281" fill="#000" shape-rendering="geometricPrecision"/>
<rect x="88" y="15" width="3" height="1" fill="#000"/>
<rect x="88" y="48" width="3" height="1" fill="#000"/>
<rect x="88" y="81" width="3" height="1" fill="#000"/>
<rect x="88" y="114" width="3" height="1" fill="#000"/>
<rect x="88" y="173" width="3" height="1" fill="#000"/>
<rect x="88" y="31" width="1" height="1" fill="#000"/>
<rect x="88" y="64" width="1" height="1" fill="#000"/>
<rect x="88" y="97" width="1" height="1" fill="#000"/>
<g shape-rendering="geometricPrecision" fill="none">
<polyline points="0,46.5 38,6.5" stroke="#00e000" stroke-width="1.1" stroke-dasharray="2.5 4"/>
<polyline points="5,18 13,25 17,27.5 24,31.3 45,32.5" stroke="#ff0000" stroke-width="1" stroke-dasharray="3 3"/>
<line x1="0" y1="13.7" x2="37" y2="13.7" stroke="#ff0000" stroke-width="2.4"/>
<line x1="37" y1="14.3" x2="48" y2="14.3" stroke="#ff0000" stroke-width="1.2"/>
<line x1="0" y1="15.6" x2="48" y2="15.6" stroke="#ff00ff" stroke-width="1.2"/>
<line x1="0.5" y1="17" x2="0.5" y2="25" stroke="#ff00ff" stroke-width="1" stroke-dasharray="1 1"/>
<line x1="12.5" y1="17" x2="12.5" y2="25" stroke="#ff00ff" stroke-width="1" stroke-dasharray="1 1"/>
<line x1="24.5" y1="17" x2="24.5" y2="25" stroke="#ff00ff" stroke-width="1" stroke-dasharray="1 1"/>
<line x1="36.5" y1="17" x2="36.5" y2="25" stroke="#ff00ff" stroke-width="1" stroke-dasharray="1 1"/>
<polyline points="0,25.3 13.5,25.3 24,20.3 37,20.3 48,12.5" stroke="#00e000" stroke-width="1"/>
<polyline points="0,36 13,35.5 25,24.5 37.5,24.5 48,10.5" stroke="#0000ff" stroke-width="2" stroke-linejoin="round"/>
</g>
<rect x="32" y="0" width="9" height="1.3" fill="#000"/>
<rect x="36" y="0" width="1.3" height="3.5" fill="#000"/>
<rect x="44.5" y="-1" width="8" height="4.8" fill="none" stroke="#00e000" stroke-width="1"/>
<rect x="0" y="131" width="165" height="1" fill="#808080"/>
<rect x="0" y="132" width="165" height="2" fill="#d4d0c8"/>
<rect x="0" y="134" width="165" height="1" fill="#606060"/>
<rect x="0" y="211" width="165" height="1" fill="#808080"/>
<rect x="0" y="212" width="165" height="2" fill="#d4d0c8"/>
<rect x="0" y="214" width="165" height="1" fill="#606060"/>
<circle cx="1.3" cy="159.3" r="3.6" fill="#ffff00" shape-rendering="geometricPrecision"/>
<circle cx="13.3" cy="159.3" r="3.6" fill="#ffff00" shape-rendering="geometricPrecision"/>
<circle cx="25.3" cy="159.3" r="3.6" fill="#00e000" shape-rendering="geometricPrecision"/>
<circle cx="37.3" cy="159.3" r="3.6" fill="#ffff00" shape-rendering="geometricPrecision"/>
<circle cx="49.3" cy="159.3" r="3.6" fill="#ffff00" shape-rendering="geometricPrecision"/>
<circle cx="1.3" cy="166.3" r="3.6" fill="#00e000" shape-rendering="geometricPrecision"/>
<circle cx="13.3" cy="166.3" r="3.6" fill="#00e000" shape-rendering="geometricPrecision"/>
<circle cx="25.3" cy="166.3" r="3.6" fill="#000" shape-rendering="geometricPrecision"/>
<circle cx="37.3" cy="166.3" r="3.6" fill="#000" shape-rendering="geometricPrecision"/>
<circle cx="49.3" cy="166.3" r="3.6" fill="#ff0000" shape-rendering="geometricPrecision"/>
<circle cx="1.3" cy="173.60000000000002" r="3.6" fill="#ff0000" shape-rendering="geometricPrecision"/>
<circle cx="13.3" cy="173.60000000000002" r="3.6" fill="#ff0000" shape-rendering="geometricPrecision"/>
<circle cx="25.3" cy="173.60000000000002" r="3.6" fill="#ff0000" shape-rendering="geometricPrecision"/>
<circle cx="37.3" cy="173.60000000000002" r="3.6" fill="#ff0000" shape-rendering="geometricPrecision"/>
<circle cx="49.3" cy="173.60000000000002" r="3.6" fill="#00e000" shape-rendering="geometricPrecision"/>
<circle cx="1.3" cy="181.5" r="3.6" fill="#000" shape-rendering="geometricPrecision"/>
<circle cx="13.3" cy="181.5" r="3.6" fill="#000" shape-rendering="geometricPrecision"/>
<circle cx="25.3" cy="181.5" r="3.6" fill="#000" shape-rendering="geometricPrecision"/>
<circle cx="37.3" cy="181.5" r="3.6" fill="#00e000" shape-rendering="geometricPrecision"/>
<circle cx="49.3" cy="181.5" r="3.6" fill="#000" shape-rendering="geometricPrecision"/>
<circle cx="1.3" cy="190.5" r="3.6" fill="#000" shape-rendering="geometricPrecision"/>
<circle cx="13.3" cy="190.5" r="3.6" fill="#00e000" shape-rendering="geometricPrecision"/>
<circle cx="25.3" cy="190.5" r="3.6" fill="#00e000" shape-rendering="geometricPrecision"/>
<circle cx="37.3" cy="190.5" r="3.6" fill="#00e000" shape-rendering="geometricPrecision"/>
<circle cx="49.3" cy="190.5" r="3.6" fill="#00e000" shape-rendering="geometricPrecision"/>
<circle cx="1.3" cy="201.5" r="3.6" fill="#ff0000" shape-rendering="geometricPrecision"/>
<circle cx="13.3" cy="201.5" r="3.6" fill="#ff0000" shape-rendering="geometricPrecision"/>
<circle cx="25.3" cy="201.5" r="3.6" fill="#ff0000" shape-rendering="geometricPrecision"/>
<circle cx="37.3" cy="201.5" r="3.6" fill="#ffff00" shape-rendering="geometricPrecision"/>
<circle cx="49.3" cy="201.5" r="3.6" fill="#ff0000" shape-rendering="geometricPrecision"/>
<circle cx="1.3" cy="259.3" r="3.6" fill="#00e000" shape-rendering="geometricPrecision"/>
<circle cx="13.3" cy="259.3" r="3.6" fill="#ff0000" shape-rendering="geometricPrecision"/>
<circle cx="25.3" cy="259.3" r="3.6" fill="#00e000" shape-rendering="geometricPrecision"/>
<circle cx="37.3" cy="259.3" r="3.6" fill="#ff0000" shape-rendering="geometricPrecision"/>
<polyline points="0,241 20,240.5 30,240 36,239" stroke="#ffffc0" stroke-width="1" fill="none" stroke-dasharray="1 1"/>
<rect x="0" y="264" width="87" height="1" fill="#000"/>
<rect x="60" y="264" width="1" height="4" fill="#000"/>
<defs><pattern id="dith" width="2" height="2" patternUnits="userSpaceOnUse"><rect width="2" height="2" fill="#fff"/><rect width="1" height="1" fill="#d4d0c8"/><rect x="1" y="1" width="1" height="1" fill="#d4d0c8"/></pattern></defs>
<rect x="0" y="281" width="165" height="16" fill="url(#dith)"/>
<rect x="132" y="281" width="17" height="16" fill="#d4d0c8"/>
<rect x="132" y="281" width="16" height="1" fill="#fff"/>
<rect x="132" y="281" width="1" height="15" fill="#fff"/>
<rect x="148" y="281" width="1" height="16" fill="#404040"/>
<rect x="132" y="296" width="17" height="1" fill="#404040"/>
<rect x="147" y="282" width="1" height="14" fill="#808080"/>
<rect x="133" y="295" width="15" height="1" fill="#808080"/>
<rect x="149" y="281" width="16" height="16" fill="#d4d0c8"/>
<rect x="149" y="281" width="15" height="1" fill="#fff"/>
<rect x="149" y="281" width="1" height="15" fill="#fff"/>
<rect x="164" y="281" width="1" height="16" fill="#404040"/>
<rect x="149" y="296" width="16" height="1" fill="#404040"/>
<rect x="163" y="282" width="1" height="14" fill="#808080"/>
<rect x="150" y="295" width="14" height="1" fill="#808080"/>
<polygon points="155,285 159,288.5 155,292" fill="#000" shape-rendering="geometricPrecision"/>
<rect x="165" y="0" width="2" height="299" fill="#ccd4cc"/>
<rect x="167" y="0" width="1" height="300" fill="#808080"/>
<rect x="168" y="0" width="1" height="301" fill="#404040"/>
<rect x="0" y="297" width="167" height="2" fill="#ccd4cc"/>
<rect x="0" y="299" width="168" height="1" fill="#808080"/>
<rect x="0" y="300" width="169" height="1" fill="#404040"/></g>
</svg>
<div class="tag" style="left:1131px;top:39px;width:53px;height:16px;background:#00f000"></div>
<div class="tag" style="left:1131px;top:646px;width:32px;height:16px;background:#008000"></div>
<div class="tag" style="left:1131px;top:661px;width:25px;height:16px;background:#ff0000"></div>
<div class="t" id="t0" style="left:168.9px;top:-2.9px;font-size:14px;color:#000;font-weight:bold;transform-origin:0 50%;transform:scaleX(0.92);">STRIAL AVERAGE,1) Dynamic,Auto(15:30-22:00)</div>
<div class="t" id="t1" style="left:1131.2px;top:18.0px;font-size:14px;color:#000;font-weight:bold;transform-origin:0 50%;transform:scaleX(0.885);">17825.00</div>
<div class="t" id="t2" style="left:1131.2px;top:55.0px;font-size:14px;color:#000;font-weight:bold;transform-origin:0 50%;transform:scaleX(0.885);">17820.00</div>
<div class="t" id="t3" style="left:1131.2px;top:92.0px;font-size:14px;color:#000;font-weight:bold;transform-origin:0 50%;transform:scaleX(0.885);">17815.00</div>
<div class="t" id="t4" style="left:1131.2px;top:129.0px;font-size:14px;color:#000;font-weight:bold;transform-origin:0 50%;transform:scaleX(0.885);">17810.00</div>
<div class="t" id="t5" style="left:1131.2px;top:166.0px;font-size:14px;color:#000;font-weight:bold;transform-origin:0 50%;transform:scaleX(0.885);">17805.00</div>
<div class="t" id="t6" style="left:1131.2px;top:203.0px;font-size:14px;color:#000;font-weight:bold;transform-origin:0 50%;transform:scaleX(0.885);">17800.00</div>
<div class="t" id="t7" style="left:1131.2px;top:240.0px;font-size:14px;color:#000;font-weight:bold;transform-origin:0 50%;transform:scaleX(0.885);">17795.00</div>
<div class="t" id="t8" style="left:1131.2px;top:277.0px;font-size:14px;color:#000;font-weight:bold;transform-origin:0 50%;transform:scaleX(0.885);">17790.00</div>
<div class="t" id="t9" style="left:1131.2px;top:314.0px;font-size:14px;color:#000;font-weight:bold;transform-origin:0 50%;transform:scaleX(0.885);">17785.00</div>
<div class="t" id="t10" style="left:1131.2px;top:351.0px;font-size:14px;color:#000;font-weight:bold;transform-origin:0 50%;transform:scaleX(0.885);">17780.00</div>
<div class="t" id="t11" style="left:1131.2px;top:388.0px;font-size:14px;color:#000;font-weight:bold;transform-origin:0 50%;transform:scaleX(0.885);">17775.00</div>
<div class="t" id="t12" style="left:1131.2px;top:425.0px;font-size:14px;color:#000;font-weight:bold;transform-origin:0 50%;transform:scaleX(0.885);">17770.00</div>
<div class="t" id="t13" style="left:1131.2px;top:463.0px;font-size:14px;color:#000;font-weight:bold;transform-origin:0 50%;transform:scaleX(0.885);">17765.00</div>
<div class="t" id="t14" style="left:1131.2px;top:500.0px;font-size:14px;color:#000;font-weight:bold;transform-origin:0 50%;transform:scaleX(0.885);">17760.00</div>
<div class="t" id="t15" style="left:1131.2px;top:537.0px;font-size:14px;color:#000;font-weight:bold;transform-origin:0 50%;transform:scaleX(0.885);">17755.00</div>
<div class="t" id="t16" style="left:1131.2px;top:574.0px;font-size:14px;color:#000;font-weight:bold;transform-origin:0 50%;transform:scaleX(0.885);">17750.00</div>
<div class="t" id="t17" style="left:1131.2px;top:611.0px;font-size:14px;color:#000;font-weight:bold;transform-origin:0 50%;transform:scaleX(0.885);">17745.00</div>
<div class="t" id="t18" style="left:1131.6px;top:689.5px;font-size:14px;color:#000;font-weight:bold;transform-origin:0 50%;transform:scaleX(0.885);">50</div>
<div class="t" id="t19" style="left:1131.6px;top:734.6px;font-size:14px;color:#000;font-weight:bold;transform-origin:0 50%;transform:scaleX(0.885);">0</div>
<div class="t" id="t20" style="left:86.5px;top:752.2px;font-size:14px;color:#000;font-weight:bold;transform-origin:0 50%;transform:scaleX(0.885);">18:00</div>
<div class="t" id="t21" style="left:206.5px;top:752.2px;font-size:14px;color:#000;font-weight:bold;transform-origin:0 50%;transform:scaleX(0.885);">18:30</div>
<div class="t" id="t22" style="left:326.5px;top:752.2px;font-size:14px;color:#000;font-weight:bold;transform-origin:0 50%;transform:scaleX(0.885);">19:00</div>
<div class="t" id="t23" style="left:446.5px;top:752.2px;font-size:14px;color:#000;font-weight:bold;transform-origin:0 50%;transform:scaleX(0.885);">19:30</div>
<div class="t" id="t24" style="left:566.5px;top:752.2px;font-size:14px;color:#000;font-weight:bold;transform-origin:0 50%;transform:scaleX(0.885);">20:00</div>
<div class="t" id="t25" style="left:686.5px;top:752.2px;font-size:14px;color:#000;font-weight:bold;transform-origin:0 50%;transform:scaleX(0.885);">20:30</div>
<div class="t" id="t26" style="left:806.5px;top:752.2px;font-size:14px;color:#000;font-weight:bold;transform-origin:0 50%;transform:scaleX(0.885);">21:00</div>
<div class="t" id="t27" style="left:926.5px;top:752.2px;font-size:14px;color:#000;font-weight:bold;transform-origin:0 50%;transform:scaleX(0.885);">21:30</div>
<div class="t" id="t28" style="left:93.4px;top:10.3px;font-size:10.5px;color:#000;font-weight:bold;letter-spacing:0.091px;">17.815,00</div>
<div class="t" id="t29" style="left:93.4px;top:43.1px;font-size:10.5px;color:#000;font-weight:bold;letter-spacing:0.091px;">17.810,00</div>
<div class="t" id="t30" style="left:93.4px;top:75.9px;font-size:10.5px;color:#000;font-weight:bold;letter-spacing:0.091px;">17.805,00</div>
<div class="t" id="t31" style="left:93.4px;top:108.7px;font-size:10.5px;color:#000;font-weight:bold;letter-spacing:0.091px;">17.800,00</div>
<div class="t" id="t32" style="left:93.4px;top:168.2px;font-size:10.5px;color:#000;font-weight:bold;letter-spacing:0.119px;">1,0000</div>
<div class="t" id="t33" style="left:-1.0px;top:139.5px;font-size:10.5px;color:#000;font-weight:normal;">/ Welle</div>
<div class="t" id="t34" style="left:326.5px;top:219.2px;font-size:14px;color:#000;font-weight:bold;transform-origin:0 50%;transform:scaleX(0.9095580678314503);">17797</div>
<div class="t" id="t35" style="left:446.9px;top:254.2px;font-size:14px;color:#000;font-weight:bold;transform-origin:0 50%;transform:scaleX(0.9121274409044197);">17792</div>
<div class="t" id="t36" style="left:566.9px;top:69.1px;font-size:14px;color:#000;font-weight:bold;transform-origin:0 50%;transform:scaleX(0.8967112024665993);">17817</div>
<div class="t" id="t37" style="left:650.9px;top:28.1px;font-size:14px;color:#000;font-weight:bold;transform-origin:0 50%;transform:scaleX(0.8941418293936285);">17823</div>
<div class="t" id="t38" style="left:723.1px;top:88.2px;font-size:14px;color:#000;font-weight:bold;transform-origin:0 50%;transform:scaleX(0.901849948612538);">17813</div>
<div class="t" id="t39" style="left:787.1px;top:65.5px;font-size:14px;color:#000;font-weight:bold;transform-origin:0 50%;transform:scaleX(0.8941418293936285);">17818</div>
<div class="t" id="t40" style="left:850.8px;top:79.4px;font-size:14px;color:#000;font-weight:bold;transform-origin:0 50%;transform:scaleX(0.9095580678314474);">17816</div>
<div class="t" id="t41" style="left:810.5px;top:195.1px;font-size:14px;color:#000;font-weight:bold;transform-origin:0 50%;transform:scaleX(0.8941418293936285);">17803</div>
<div class="t" id="t42" style="left:535.3px;top:195.5px;font-size:14px;color:#000;font-weight:bold;transform-origin:0 50%;transform:scaleX(0.876156217882836);">17800</div>
<div class="t" id="t43" style="left:199.0px;top:550.5px;font-size:14px;color:#000;font-weight:bold;transform-origin:0 50%;transform:scaleX(0.9095580678314489);">17755</div>
<div class="t" id="t44" style="left:398.9px;top:55.9px;font-size:14.67px;color:#000;font-weight:bold;letter-spacing:0.032px;">+1,15 R / +11,5 Punkte</div>
<div class="t" id="t45" style="left:394.6px;top:73.7px;font-size:14.67px;color:#0000ff;font-weight:bold;letter-spacing:0.078px;">2/2 Teilgewinn 17813</div>
<div class="t" id="t46" style="left:398.9px;top:147.9px;font-size:14.67px;color:#000;font-weight:bold;letter-spacing:0.059px;">+0,65 R / +6,5 Punkte</div>
<div class="t" id="t47" style="left:391.4px;top:162.6px;font-size:14.67px;color:#0000ff;font-weight:bold;letter-spacing:0.072px;">1/2 50% Teilverkauf 17803</div>
<div class="t" id="t48" style="left:586.8px;top:179.0px;font-size:14.67px;color:#0000ff;font-weight:bold;letter-spacing:0.058px;">2/2 RestStopp 17805</div>
<div class="t" id="t49" style="left:582.9px;top:230.1px;font-size:14.67px;color:#0000ff;font-weight:bold;letter-spacing:0.016px;">2/2 RestStopp 17797</div>
<div class="t" id="t50" style="left:543.7px;top:280.2px;font-size:14.67px;color:#0000ff;font-weight:bold;letter-spacing:-0.129px;">Stopp Buy 17790</div>
<div class="t" id="t51" style="left:663.2px;top:278.3px;font-size:14.67px;color:#0000ff;font-weight:bold;letter-spacing:0.011px;">2/2 RestStopp 17790</div>
<div class="t" id="t52" style="left:548.0px;top:350.3px;font-size:14.67px;color:#0000ff;font-weight:bold;letter-spacing:-0.088px;">Stopp 17780</div>
<div class="t" id="t53" style="left:974.5px;top:-1.2px;font-size:14.67px;color:#ff00ff;font-weight:bold;letter-spacing:-0.061px;">Ausstieg 17822</div>
<div class="t" id="t54" style="left:516.7px;top:363.2px;font-size:30px;color:#000;font-weight:bold;-webkit-text-stroke:1.3px #000;transform-origin:0 0;transform:scaleX(1.186);letter-spacing:0.55px;">Gesamt: +2,073 R /+ 25,00 Punkte</div>
<div class="t" id="t55" style="left:51.0px;top:460.3px;font-size:13px;color:#000020;font-weight:bold;letter-spacing:0.187px;">1. Trade</div>
<div class="t" id="t56" style="left:18.9px;top:475.7px;font-size:14.67px;color:#008000;font-weight:bold;letter-spacing:-0.084px;">Einstieg 17781</div>
<div class="t" id="t57" style="left:36.0px;top:494.0px;font-size:14.67px;color:#008000;font-weight:bold;letter-spacing:-0.252px;">Stopp 17751</div>
<div class="t" id="t58" style="left:22.7px;top:511.6px;font-size:14.67px;color:#008000;font-weight:bold;letter-spacing:-0.069px;">Ausstieg 17782</div>
<div class="t" id="t59" style="left:42.7px;top:529.9px;font-size:13px;color:#000;font-weight:bold;letter-spacing:0.035px;">1R=30 Punkte</div>
<div class="t" id="t60" style="left:42.7px;top:545.9px;font-size:13px;color:#000;font-weight:bold;letter-spacing:-0.218px;">1R: 17811</div>
<div class="t" id="t61" style="left:42.7px;top:562.0px;font-size:13px;color:#000;font-weight:bold;letter-spacing:-0.298px;">2R: 17841</div>
<div class="t" id="t62" style="left:42.7px;top:578.0px;font-size:13px;color:#000;font-weight:bold;letter-spacing:-0.298px;">3R: 17871</div>
<div class="t" id="t63" style="left:42.7px;top:594.1px;font-size:13px;color:#000;font-weight:bold;letter-spacing:-0.298px;">4R: 17901</div>
<div class="t" id="t64" style="left:19.1px;top:615.4px;font-size:14.67px;color:#000;font-weight:bold;letter-spacing:0.035px;">+0,033 R / +1 Punkte</div>
<div class="t" id="t65" style="left:287.5px;top:447.4px;font-size:14.67px;color:#000;font-weight:bold;letter-spacing:0.040px;">+1,8 R / +18 Punkte</div>
<div class="t" id="t66" style="left:326.4px;top:462.4px;font-size:13px;color:#000;font-weight:bold;letter-spacing:0.337px;">2. Trade</div>
<div class="t" id="t67" style="left:303.8px;top:478.8px;font-size:14.67px;color:#0000ff;font-weight:bold;letter-spacing:-0.096px;">Stopp Buy 17790</div>
<div class="t" id="t68" style="left:303.8px;top:496.3px;font-size:14.67px;color:#0000ff;font-weight:bold;letter-spacing:-0.106px;">Stopp 17780</div>
<div class="t" id="t69" style="left:306.3px;top:522.1px;font-size:13px;color:#000;font-weight:bold;letter-spacing:0.118px;">1R=10 Punkte</div>
<div class="t" id="t70" style="left:306.3px;top:538.0px;font-size:13px;color:#000;font-weight:bold;letter-spacing:-0.075px;">1R: 17800</div>
<div class="t" id="t71" style="left:306.3px;top:554.0px;font-size:13px;color:#000;font-weight:bold;letter-spacing:-0.075px;">2R: 17810</div>
<div class="t" id="t72" style="left:306.3px;top:569.9px;font-size:13px;color:#000;font-weight:bold;letter-spacing:-0.075px;">3R: 17820</div>
<div class="t" id="t73" style="left:306.3px;top:585.9px;font-size:13px;color:#000;font-weight:bold;letter-spacing:-0.075px;">4R: 17830</div>
<div class="t" id="t74" style="left:383.3px;top:539.3px;font-size:14.67px;color:#0000ff;font-weight:bold;letter-spacing:0.076px;">1/2 50% Teilverkauf 17803</div>
<div class="t" id="t75" style="left:395.0px;top:554.4px;font-size:14.67px;color:#000;font-weight:bold;letter-spacing:0.064px;">+0,65 R / +6,5 Punkte</div>
<div class="t" id="t76" style="left:402.9px;top:573.3px;font-size:14.67px;color:#0000ff;font-weight:bold;letter-spacing:0.073px;">2/2 Teilgewinn 17813</div>
<div class="t" id="t77" style="left:395.0px;top:589.8px;font-size:14.67px;color:#000;font-weight:bold;letter-spacing:0.064px;">+1,15 R / +11,5 Punkte</div>
<div class="t" id="t78" style="left:603.0px;top:424.5px;font-size:14.67px;color:#000;font-weight:bold;letter-spacing:0.187px;">0 R</div>
<div class="t" id="t79" style="left:582.6px;top:441.1px;font-size:13px;color:#000;font-weight:bold;letter-spacing:0.287px;">3. Trade</div>
<div class="t" id="t80" style="left:563.8px;top:460.3px;font-size:14.67px;color:#ff00ff;font-weight:bold;letter-spacing:-0.162px;">Stopp Buy 17811</div>
<div class="t" id="t81" style="left:595.9px;top:476.5px;font-size:14.67px;color:#ff00ff;font-weight:bold;letter-spacing:-0.161px;">Stopp 17791</div>
<div class="t" id="t82" style="left:594.4px;top:497.8px;font-size:13px;color:#000;font-weight:bold;letter-spacing:0.051px;">1R=20 Punkte</div>
<div class="t" id="t83" style="left:594.4px;top:513.8px;font-size:13px;color:#000;font-weight:bold;letter-spacing:-0.164px;">1R: 17831</div>
<div class="t" id="t84" style="left:594.4px;top:529.8px;font-size:13px;color:#000;font-weight:bold;letter-spacing:-0.164px;">2R: 17851</div>
<div class="t" id="t85" style="left:594.4px;top:545.8px;font-size:13px;color:#000;font-weight:bold;letter-spacing:-0.164px;">3R: 17871</div>
<div class="t" id="t86" style="left:594.4px;top:561.8px;font-size:13px;color:#000;font-weight:bold;letter-spacing:-0.164px;">4R: 17891</div>
<div class="t" id="t87" style="left:711.4px;top:419.4px;font-size:14.67px;color:#000;font-weight:bold;letter-spacing:0.045px;">+0,24 R / +6 Punkte</div>
<div class="t" id="t88" style="left:746.7px;top:441.1px;font-size:13px;color:#000;font-weight:bold;letter-spacing:0.200px;">4. Trade</div>
<div class="t" id="t89" style="left:731.8px;top:459.0px;font-size:14.67px;color:#ff00ff;font-weight:bold;letter-spacing:-0.129px;">Stopp Buy 17816</div>
<div class="t" id="t90" style="left:731.8px;top:475.5px;font-size:14.67px;color:#ff00ff;font-weight:bold;letter-spacing:-0.206px;">Stopp 17791</div>
<div class="t" id="t91" style="left:735.0px;top:493.8px;font-size:14.67px;color:#ff00ff;font-weight:bold;letter-spacing:-0.111px;">Ausstieg 17822</div>
<div class="t" id="t92" style="left:734.4px;top:511.7px;font-size:13px;color:#000;font-weight:bold;letter-spacing:0.076px;">1R=25 Punkte</div>
<div class="t" id="t93" style="left:734.4px;top:527.8px;font-size:13px;color:#000;font-weight:bold;letter-spacing:-0.187px;">1R: 17841</div>
<div class="t" id="t94" style="left:734.4px;top:543.9px;font-size:13px;color:#000;font-weight:bold;letter-spacing:-0.187px;">2R: 17866</div>
<div class="t" id="t95" style="left:734.4px;top:560.0px;font-size:13px;color:#000;font-weight:bold;letter-spacing:-0.187px;">3R: 17891</div>
<div class="t" id="t96" style="left:734.4px;top:576.1px;font-size:13px;color:#000;font-weight:bold;letter-spacing:-0.187px;">4R: 17916</div>
<div class="t" id="t97" style="left:2.1px;top:629.2px;font-size:8px;color:#000;font-weight:normal;letter-spacing:-0.074px;-webkit-text-stroke:0.25px #000;">© eSignal, 2010</div>
<div class="t" id="t98" style="left:0.9px;top:645.9px;font-size:13px;color:#008000;font-weight:normal;letter-spacing:0.175px;-webkit-text-stroke:0.35px #008000;">Stochastic(9(6),6)</div>
<div class="t" id="t99" style="left:1131.6px;top:40.4px;font-size:14px;color:#fff;font-weight:bold;transform-origin:0 50%;transform:scaleX(0.885);">17822.03</div>
<div class="t" id="t100" style="left:1131.6px;top:647.2px;font-size:14px;color:#fff;font-weight:bold;transform-origin:0 50%;transform:scaleX(0.885);">89.59</div>
<div class="t" id="t101" style="left:1131.6px;top:661.7px;font-size:14px;color:#fff;font-weight:bold;transform-origin:0 50%;transform:scaleX(0.885);">75.6</div>
</body></html>
